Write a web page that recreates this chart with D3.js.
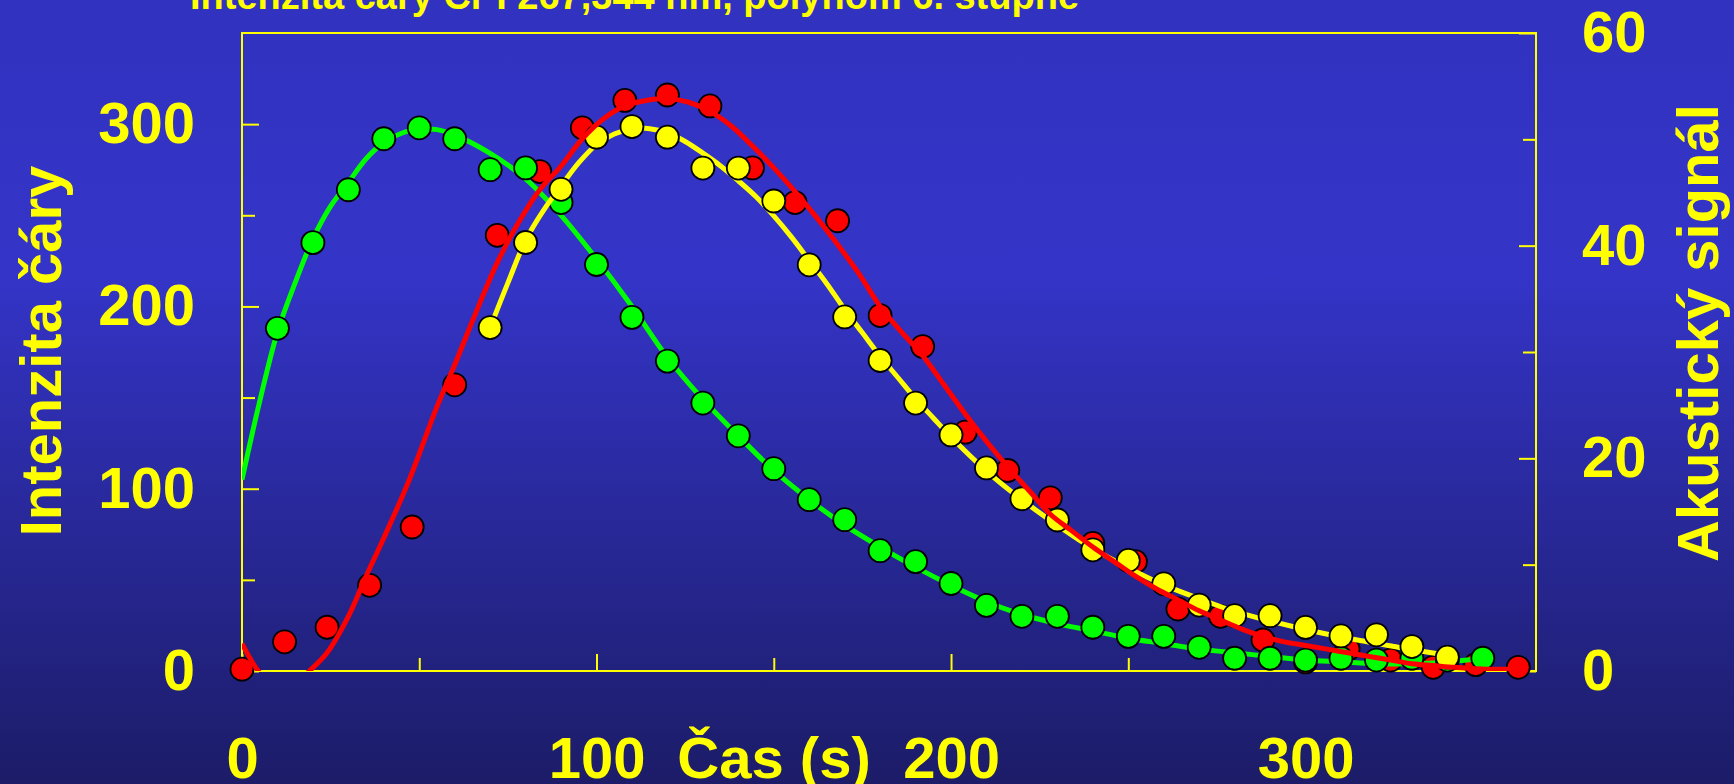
<!DOCTYPE html>
<html>
<head>
<meta charset="utf-8">
<script src="https://cdn.jsdelivr.net/npm/d3@7"></script>
<style>
  html, body { margin: 0; padding: 0; background: #1c1c68; }
  svg { display: block; }
  text { font-family: "Liberation Sans", Arial, sans-serif; font-weight: bold; fill: #ffff00; }
</style>
</head>
<body>
<div id="chart"></div>
<script>
"use strict"
// measured points - green & red on left axis, yellow on right axis
var greenT = [10,20,30,40,50,60,70,80,90,100,110,120,130,140,150,160,170,180,190,200,210,220,230,240,250,260,270,280,290,300,310,320,330,340,350];
var greenV = [188,235,264,292,298,292,275,276,257,223,194,170,147,129,111,94,83,66,60,48,36,30,30,24,19,19,13,7,7,6,7,6,7,6,7];

var redT = [0,12,24,36,48,60,72,84,96,108,120,132,144,156,168,180,192,204,216,228,240,252,264,276,288,300,312,324,336,348,360];
var redV = [1,16,24,47,79,157,239,274,298,313,316,310,276,257,247,195,178,131,110,95,70,60,34,30,17,5,12,6,2,3.5,2];

var yellowT = [70,80,90,100,110,120,130,140,150,160,170,180,190,200,210,220,230,240,250,260,270,280,290,300,310,320,330,340];
var yellowV = [32.3,40.3,45.3,50.2,51.2,50.2,47.3,47.3,44.2,38.2,33.3,29.2,25.2,22.2,19.1,16.2,14.2,11.4,10.4,8.2,6.2,5.2,5.2,4.1,3.3,3.4,2.3,1.3];

// fitted curves (polynom 6. stupne)
var greenFitT = [0,5,10,15,20,25,30,35,40,45,50,55,60,70,80,90,100,110,120,130,140,150,160,170,180,190,200,210,220,230,240,250,260,270,280,290,300,310,320,330,340,350];
var greenFitV = [105,148,186,213,237,255,268,281,290,295,297,297,294,284,270,250,226,200,172,149,129,110,94,80,68,57,47,38,31,26,22,18,15,12,10,8,6,5,4,4,5,7];

var redFitT = [0,5,10,15,19,24,30,35,40,47,55,60,65,72,78,84,90,96,102,108,114,120,126,132,138,144,150,156,162,168,174,180,186,192,198,204,210,216,222,228,234,240,246,252,258,264,270,276,282,288,294,300,306,312,318,324,330,336,342,348,354,360];
var redFitV = [15,-1,-9,-7,0,10,30,52,73,104,145,168,192,224,246,264,277,292,303,310,313,314,312,307,299,288,276,263,249,234,218,200,186,173,157,141,126,112,99,86,77,68,60,52,45,39,33,28,23,19,16,14,12,10,8,6,4,3,2,1.3,1,1.3];

var yellowFitT = [70,75,80,85,90,95,100,105,110,115,120,125,130,135,140,145,150,155,160,165,170,175,180,185,190,195,200,210,220,230,240,250,260,270,280,290,300,310,320,330,340];
var yellowFitV = [32.3,36.5,40.5,43.3,45.6,47.8,49.5,50.5,51,51,50.6,49.8,48.7,47.5,46.1,44.6,42.8,40.8,38.6,36.4,34,31.8,29.6,27.6,25.6,23.8,22,18.8,16.1,13.7,11.5,9.7,8.1,6.8,5.6,4.7,3.9,3.2,2.6,2,1.5];

var xMajor = [0,100,200,300];
var xMinor = [50,150,250,350];
var leftMajor = [0,100,200,300];
var leftMinor = [50,150,250];
var rightMajor = [0,20,40,60];
var rightMinor = [10,30,50];

var title = "Intenzita čáry Cr I 267,344 nm, polynom 6. stupně";
var xTitle = "Čas (s)";
var leftTitle = "Intenzita čáry";
var rightTitle = "Akustický signál";

var width = 1734;
var height = 784;
var plot = {left: 242, right: 1536, top: 33, bottom: 671};

var xScale = d3.scaleLinear().domain([0, 365]).range([plot.left, plot.right]);
var yLeft = d3.scaleLinear().domain([0, 350]).range([plot.bottom, plot.top]);
var yRight = d3.scaleLinear().domain([0, 60]).range([plot.bottom, plot.top]);

var svg = d3.select("#chart").append("svg")
    .attr("width", width)
    .attr("height", height);

var defs = svg.append("defs");
var grad = defs.append("linearGradient").attr("id", "bg")
    .attr("x1", 0).attr("y1", 0).attr("x2", 0).attr("y2", 1);
grad.append("stop").attr("offset", "0%").attr("stop-color", "#3232c0");
grad.append("stop").attr("offset", "35%").attr("stop-color", "#3434c8");
grad.append("stop").attr("offset", "100%").attr("stop-color", "#1c1c68");

defs.append("clipPath").attr("id", "plotClip")
  .append("rect")
    .attr("x", plot.left).attr("y", plot.top)
    .attr("width", plot.right - plot.left)
    .attr("height", plot.bottom - plot.top);

svg.append("rect")
    .attr("width", width).attr("height", height)
    .attr("fill", "url(#bg)");

// title, cut off at top of the slide
svg.append("text")
    .attr("x", 190).attr("y", 9)
    .style("font-size", "38px")
    .text(title);

// axes
function styleAxis(g) {
  g.select(".domain").remove();
  g.selectAll("line").attr("stroke", "#ffff00").attr("stroke-width", 2);
  g.selectAll("text").style("font-size", "58px").attr("fill", "#ffff00");
}

svg.append("g")
    .attr("transform", "translate(0," + plot.bottom + ")")
    .call(d3.axisBottom(xScale).tickValues(xMajor).tickSizeInner(-17).tickSizeOuter(0).tickPadding(0))
    .call(styleAxis)
    .selectAll("text").attr("y", 107).attr("dy", 0);

svg.append("g")
    .attr("transform", "translate(0," + plot.bottom + ")")
    .call(d3.axisBottom(xScale).tickValues(xMinor).tickFormat("").tickSizeInner(-13).tickSizeOuter(0))
    .call(styleAxis);

svg.append("g")
    .attr("transform", "translate(" + plot.left + ",0)")
    .call(d3.axisLeft(yLeft).tickValues(leftMajor).tickSizeInner(-17).tickSizeOuter(0).tickPadding(47))
    .call(styleAxis);

svg.append("g")
    .attr("transform", "translate(" + plot.left + ",0)")
    .call(d3.axisLeft(yLeft).tickValues(leftMinor).tickFormat("").tickSizeInner(-13).tickSizeOuter(0))
    .call(styleAxis);

svg.append("g")
    .attr("transform", "translate(" + plot.right + ",0)")
    .call(d3.axisRight(yRight).tickValues(rightMajor).tickSizeInner(-17).tickSizeOuter(0).tickPadding(46))
    .call(styleAxis);

svg.append("g")
    .attr("transform", "translate(" + plot.right + ",0)")
    .call(d3.axisRight(yRight).tickValues(rightMinor).tickFormat("").tickSizeInner(-13).tickSizeOuter(0))
    .call(styleAxis);

// frame
svg.append("rect")
    .attr("x", plot.left).attr("y", plot.top)
    .attr("width", plot.right - plot.left)
    .attr("height", plot.bottom - plot.top)
    .attr("fill", "none")
    .attr("stroke", "#ffff00")
    .attr("stroke-width", 2);

// axis titles
svg.append("text")
    .attr("transform", "translate(61,351) rotate(-90)")
    .style("text-anchor", "middle")
    .style("font-size", "58px")
    .text(leftTitle);

svg.append("text")
    .attr("transform", "translate(1718,333) rotate(-90)")
    .style("text-anchor", "middle")
    .style("font-size", "58px")
    .text(rightTitle);

svg.append("text")
    .attr("x", 774).attr("y", 778)
    .style("text-anchor", "middle")
    .style("font-size", "58px")
    .text(xTitle);

// series
function pairs(t, v) {
  return t.map(function(d, i) { return [d, v[i]]; });
}

function drawLine(t, v, yScale, color) {
  var line = d3.line()
      .x(function(d) { return xScale(d[0]); })
      .y(function(d) { return yScale(d[1]); })
      .curve(d3.curveCatmullRom);
  svg.append("path")
      .datum(pairs(t, v))
      .attr("clip-path", "url(#plotClip)")
      .attr("fill", "none")
      .attr("stroke", color)
      .attr("stroke-width", 5)
      .attr("stroke-linejoin", "round")
      .attr("d", line);
}

function drawPoints(t, v, yScale, color) {
  svg.append("g").selectAll("circle")
      .data(pairs(t, v))
      .enter().append("circle")
      .attr("cx", function(d) { return xScale(d[0]); })
      .attr("cy", function(d) { return yScale(d[1]); })
      .attr("r", 11.5)
      .attr("fill", color)
      .attr("stroke", "#000")
      .attr("stroke-width", 1.8);
}

drawPoints(redT, redV, yLeft, "#ff0000");
drawLine(greenFitT, greenFitV, yLeft, "#00ff00");
drawPoints(greenT, greenV, yLeft, "#00ff00");
drawLine(yellowFitT, yellowFitV, yRight, "#ffff00");
drawPoints(yellowT, yellowV, yRight, "#ffff00");
drawLine(redFitT, redFitV, yLeft, "#ff0000");
</script>
</body>
</html>
